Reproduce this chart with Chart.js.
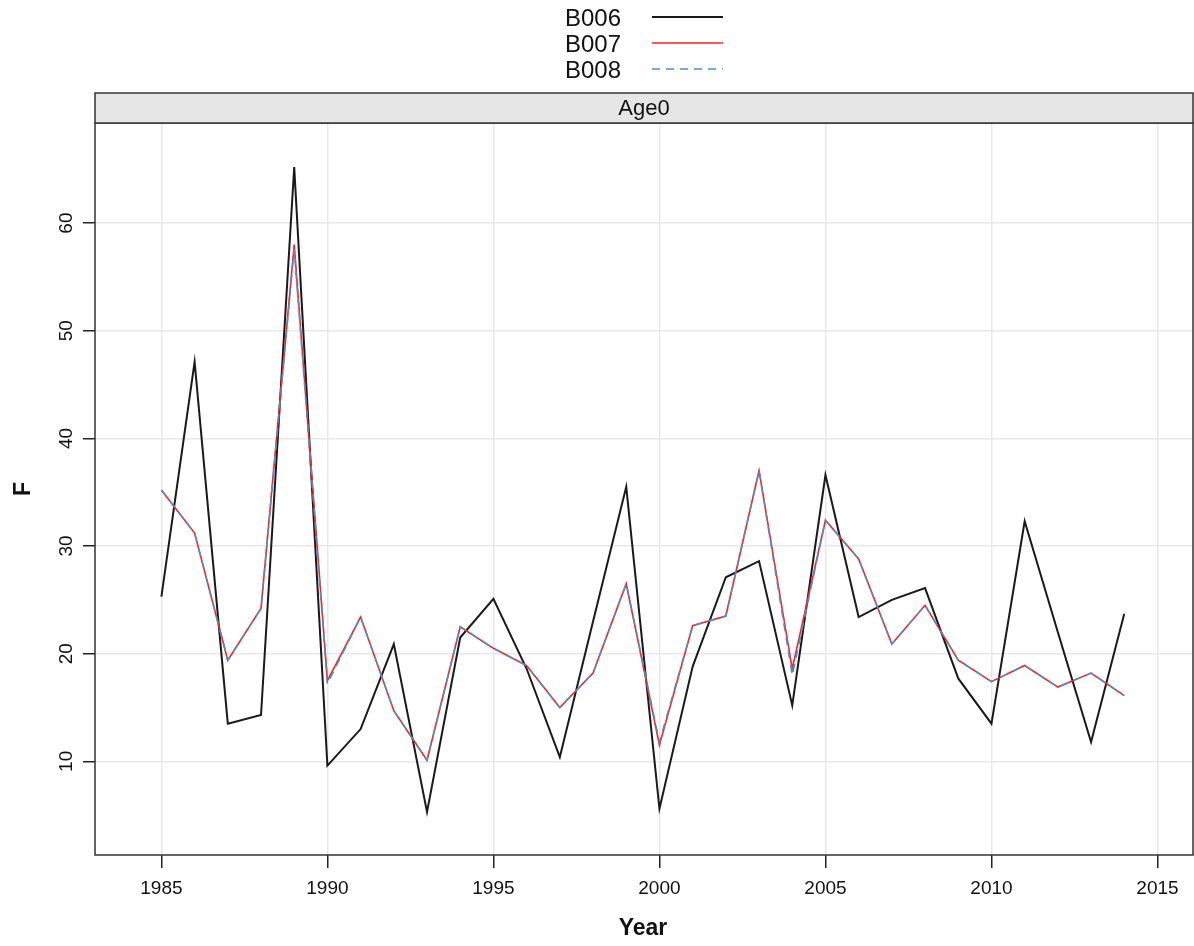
<!DOCTYPE html>
<html>
<head>
<meta charset="utf-8">
<script src="https://cdn.jsdelivr.net/npm/chart.js@4.4.1/dist/chart.umd.min.js"></script>
<style>
  html, body { margin: 0; padding: 0; background: #fff; }
  #wrap { width: 1194px; height: 946px; }
</style>
</head>
<body>
<div id="wrap"><canvas id="fChart" width="1194" height="946"></canvas></div>
<script>
// Data (Age0 panel)
const years = [1985, 1986, 1987, 1988, 1989, 1990, 1991, 1992, 1993, 1994,
               1995, 1996, 1997, 1998, 1999, 2000, 2001, 2002, 2003, 2004,
               2005, 2006, 2007, 2008, 2009, 2010, 2011, 2012, 2013, 2014];
const b006 = [25.3, 47.1, 13.5, 14.3, 65.2, 9.6, 13.0, 20.9, 5.3, 21.5,
              25.1, 18.6, 10.4, 23.0, 35.5, 5.6, 18.8, 27.1, 28.6, 15.2,
              36.6, 23.4, 25.0, 26.1, 17.7, 13.5, 32.3, 22.0, 11.8, 23.7];
const b007 = [35.2, 31.2, 19.4, 24.2, 58.0, 17.5, 23.4, 14.7, 10.1, 22.5,
              20.5, 18.9, 15.0, 18.2, 26.5, 11.5, 22.6, 23.5, 37.0, 18.6,
              32.4, 28.8, 20.9, 24.5, 19.4, 17.4, 18.9, 16.9, 18.2, 16.1];
const b008 = [35.2, 31.2, 19.4, 24.2, 57.6, 17.2, 23.4, 14.7, 10.1, 22.5,
              20.5, 18.9, 15.0, 18.2, 26.5, 11.8, 22.6, 23.5, 37.0, 18.0,
              32.4, 28.8, 20.9, 24.5, 19.4, 17.4, 18.9, 16.9, 18.2, 16.1];
const seriesNames = ['B006', 'B007', 'B008'];
const panelName = 'Age0';
const xTickValues = [1985, 1990, 1995, 2000, 2005, 2010, 2015];
const yTickValues = [10, 20, 30, 40, 50, 60];

const FONT = '"Liberation Sans", Arial, Helvetica, sans-serif';

function toPoints(values) {
    return values.map((v, i) => ({ x: years[i], y: v }));
}

// Strip, panel box, legend, axis titles and y labels (lattice look)
const latticePlugin = {
    id: 'lattice',
    beforeDraw(chart) {
        const c = chart.ctx;
        c.save();
        c.fillStyle = '#fff';
        c.fillRect(0, 0, chart.width, chart.height);
        c.restore();
    },
    afterDraw(chart) {
        const c = chart.ctx;
        const a = chart.chartArea;
        const yScale = chart.scales.y;
        c.save();

        // panel border
        c.strokeStyle = '#333';
        c.lineWidth = 1.5;
        c.strokeRect(a.left, a.top, a.right - a.left, a.bottom - a.top);

        // strip
        const stripTop = a.top - 30;
        c.fillStyle = '#e6e6e6';
        c.fillRect(a.left, stripTop, a.right - a.left, 30);
        c.strokeRect(a.left, stripTop, a.right - a.left, 30);
        c.fillStyle = '#111';
        c.font = '22px ' + FONT;
        c.textAlign = 'center';
        c.textBaseline = 'middle';
        c.fillText(panelName, (a.left + a.right) / 2, stripTop + 16);

        // y tick labels, rotated like R
        c.font = '19px ' + FONT;
        yTickValues.forEach(v => {
            const py = yScale.getPixelForValue(v);
            c.save();
            c.translate(67, py);
            c.rotate(-Math.PI / 2);
            c.textAlign = 'center';
            c.textBaseline = 'middle';
            c.fillText(String(v), 0, 0);
            c.restore();
        });

        // axis titles
        c.font = 'bold 23px ' + FONT;
        c.textAlign = 'center';
        c.textBaseline = 'middle';
        c.fillText('Year', (a.left + a.right) / 2 - 1, 929);
        c.save();
        c.translate(24, (a.top + a.bottom) / 2);
        c.rotate(-Math.PI / 2);
        c.fillText('F', 0, 0);
        c.restore();

        // legend
        const rows = [18, 44, 70];
        c.font = '24px ' + FONT;
        c.textAlign = 'left';
        chart.data.datasets.forEach((ds, i) => {
            const ly = rows[i];
            c.fillStyle = '#111';
            c.fillText(ds.label, 565, ly + 1);
            c.strokeStyle = ds.borderColor;
            c.lineWidth = ds.borderWidth;
            c.setLineDash(ds.borderDash || []);
            c.beginPath();
            c.moveTo(652, ly - 1);
            c.lineTo(723, ly - 1);
            c.stroke();
        });
        c.setLineDash([]);
        c.restore();
    }
};

const ctx = document.getElementById('fChart').getContext('2d');
const fChart = new Chart(ctx, {
    type: 'line',
    data: {
        datasets: [
            {
                label: seriesNames[0],
                data: toPoints(b006),
                borderColor: '#1a1a1a',
                borderWidth: 2,
                pointRadius: 0,
                tension: 0,
                order: 3,
            },
            {
                label: seriesNames[1],
                data: toPoints(b007),
                borderColor: '#ff2020',
                borderWidth: 1.6,
                pointRadius: 0,
                tension: 0,
                order: 2,
            },
            {
                label: seriesNames[2],
                data: toPoints(b008),
                borderColor: '#4a8fcf',
                borderWidth: 1.6,
                borderDash: [8, 6],
                pointRadius: 0,
                tension: 0,
                order: 1,
            },
        ],
    },
    options: {
        responsive: false,
        animation: false,
        events: [],
        layout: { padding: { top: 123, right: 1, left: 0, bottom: 0 } },
        plugins: {
            legend: { display: false },
            title: { display: false },
            tooltip: { enabled: false },
        },
        scales: {
            x: {
                type: 'linear',
                min: 1983.0,
                max: 2016.07,
                afterBuildTicks: scale => { scale.ticks = xTickValues.map(v => ({ value: v })); },
                afterFit: scale => { scale.height = 91; },
                border: { display: false },
                grid: {
                    color: '#e8e8e8',
                    lineWidth: 1.5,
                    drawTicks: true,
                    tickLength: 13,
                    tickColor: '#222',
                    tickWidth: 1.5,
                },
                ticks: {
                    color: '#111',
                    font: { family: FONT, size: 19 },
                    padding: 9,
                    maxRotation: 0,
                    callback: v => String(v),
                },
            },
            y: {
                type: 'linear',
                min: 1.3,
                max: 69.3,
                afterBuildTicks: scale => { scale.ticks = yTickValues.map(v => ({ value: v })); },
                afterFit: scale => { scale.width = 95; },
                border: { display: false },
                grid: {
                    color: '#e8e8e8',
                    lineWidth: 1.5,
                    drawTicks: true,
                    tickLength: 12,
                    tickColor: '#222',
                    tickWidth: 1.5,
                },
                ticks: { display: false },
            },
        },
    },
    plugins: [latticePlugin],
});
</script>
</body>
</html>
